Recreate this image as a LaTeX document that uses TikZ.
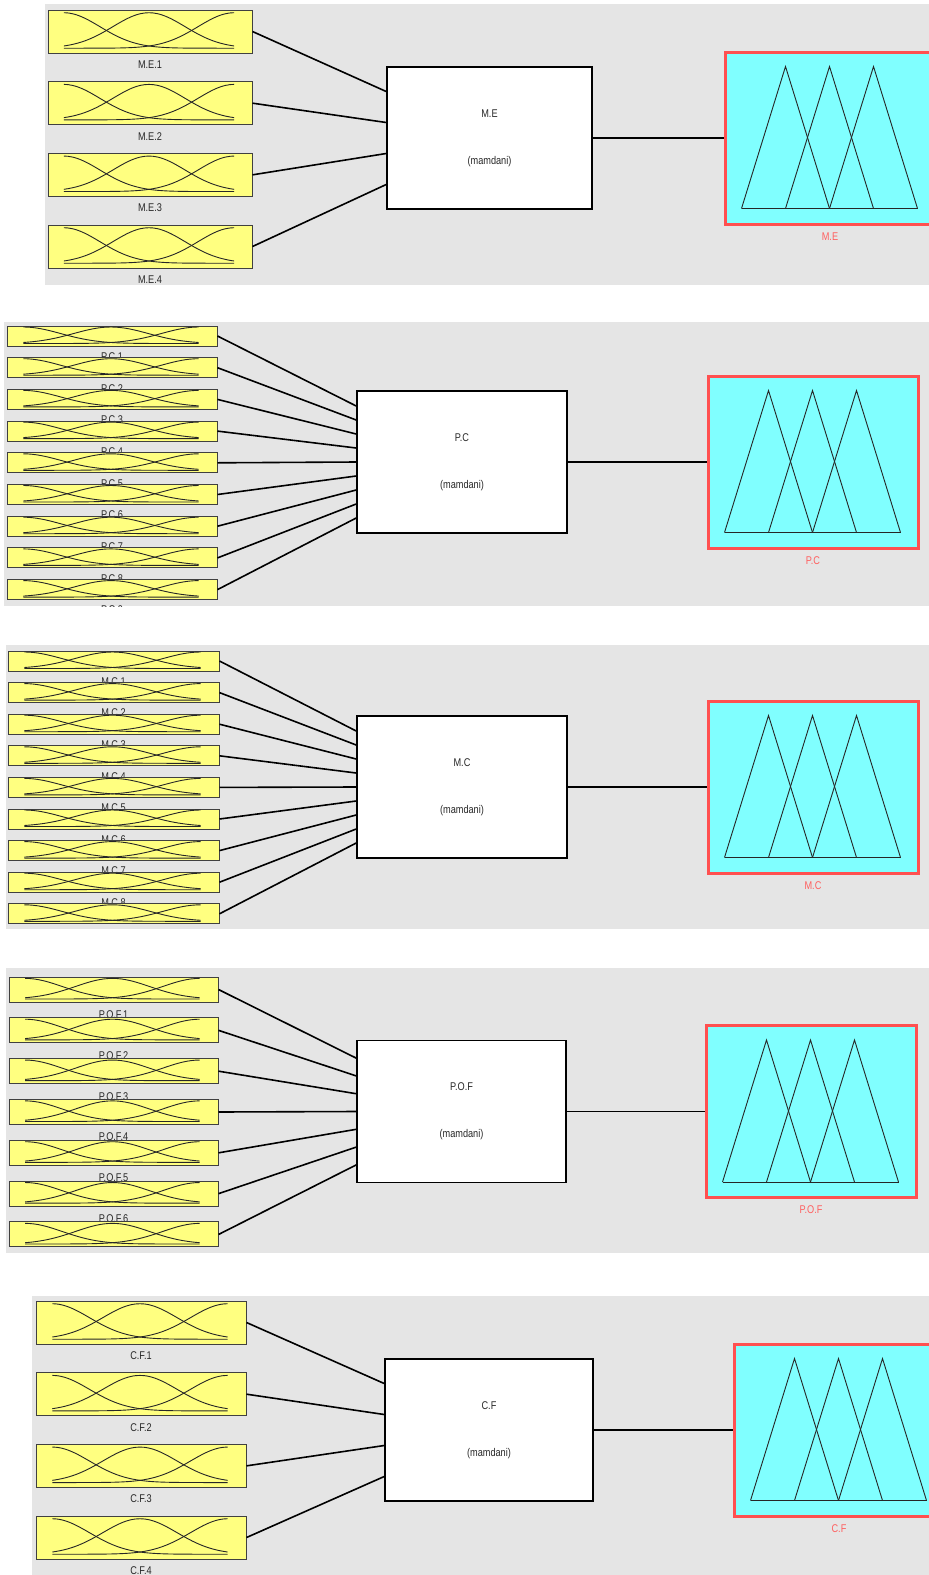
\documentclass[tikz,border=0pt]{standalone}
\usepackage{fontspec}
\newfontfamily\lblfont[FakeStretch=0.82]{Liberation Sans}
\usepackage{tikz}

\definecolor{panelgray}{RGB}{229,229,229}
\definecolor{mfyellow}{RGB}{255,255,128}
\definecolor{mfcyan}{RGB}{128,255,255}
\definecolor{outred}{RGB}{255,80,80}
\definecolor{lblgray}{RGB}{40,40,40}
\definecolor{lblred}{RGB}{255,95,95}

\newcommand{\pxu}{0.5pt}
\newcommand{\lblsize}{\lblfont\fontsize{5.6}{6.6}\selectfont}

\newcommand{\gaussmf}[3]{%
  \begin{scope}[shift={(#1.north west)}]
    \foreach \c in {0,0.5,1}
      \draw[mfline] plot[domain=0:1, samples=41, smooth] ({(0.08+0.835*\x)*#2}, {(0.9-0.825*exp(-1*(\x-\c)*(\x-\c)/0.09))*#3});
  \end{scope}}

\newcommand{\trimf}[1]{%
  \begin{scope}[shift={(#1.north west)}]
    \foreach \k in {0,1,2}
      \draw[mfline] ({18+44*\k},158) -- ({62+44*\k},16) -- ({106+44*\k},158);
    \draw[mfline] (18,158) -- (194,158);
  \end{scope}}

\tikzset{
  panel/.style={fill=panelgray},
  inbox/.style={draw=black!75, fill=mfyellow, line width=0.5pt, inner sep=0pt},
  fisbox/.style={draw=black, fill=white, line width=0.8pt, inner sep=0pt, minimum height={142*\pxu}, align=center, font=\lblsize, text=lblgray},
  outbox/.style={draw=outred, fill=mfcyan, line width=1.5pt, inner sep=0pt, minimum width={210*\pxu}, minimum height={172*\pxu}},
  mfline/.style={black!85, line width=0.45pt},
  conn/.style={black, line width=0.8pt},
  inlabel/.style={font=\lblsize, text=lblgray, inner sep=0pt},
  outlabel/.style={font=\lblsize, text=lblred, inner sep=0pt}
}

\begin{document}
\begin{tikzpicture}[x=0.5pt, y=-0.5pt]
    \useasboundingbox (0,0) rectangle (929,1575);
    \clip (0,0) rectangle (929,1575);

    \begin{scope}
    \clip (45,4) rectangle (929,285);
    \fill[panel] (45,4) rectangle (929,285);
    \foreach \i in {1,...,4} {
        \node[inbox, minimum width={204*\pxu}, minimum height={43*\pxu}] (me\i) at (150, {31.5+71.67*(\i-1)}) {};
        \gaussmf{me\i}{204}{43}
        \node[inlabel] (me\i lbl) at ([yshift={-11*\pxu}]me\i.south) {M.E.\i};
    }
    \node[fisbox, minimum width={205*\pxu}] (mefis) at (489.5,138) {M.E\\[17pt](mamdani)};
    \node[outbox] (meout) at (830,138) {};
    \trimf{meout}
    \node[outlabel] (meoutlbl) at ([yshift={-11*\pxu}]meout.south) {M.E};
    \draw[conn] (mefis.east) -- (meout.west);
    \foreach \i in {1,...,4} {
        \coordinate (mein\i) at ([yshift={-(\i-2.5)*31*\pxu}]mefis.west);
        \draw[conn] (me\i.east) -- (mein\i);
    }
    \end{scope}

    \begin{scope}
    \clip (4,322) rectangle (929,606);
    \fill[panel] (4,322) rectangle (929,606);
    \foreach \i in {1,...,9} {
        \node[inbox, minimum width={210*\pxu}, minimum height={20*\pxu}] (pc\i) at (112, {336+31.7*(\i-1)}) {};
        \gaussmf{pc\i}{210}{20}
        \node[inlabel] (pc\i lbl) at ([yshift={-10*\pxu}]pc\i.south) {P.C.\i};
    }
    \node[fisbox, minimum width={210*\pxu}] (pcfis) at (462,462) {P.C\\[17pt](mamdani)};
    \node[outbox] (pcout) at (813,462) {};
    \trimf{pcout}
    \node[outlabel] (pcoutlbl) at ([yshift={-11*\pxu}]pcout.south) {P.C};
    \draw[conn] (pcfis.east) -- (pcout.west);
    \foreach \i in {1,...,9} {
        \coordinate (pcin\i) at ([yshift={-(\i-5)*14*\pxu}]pcfis.west);
        \draw[conn] (pc\i.east) -- (pcin\i);
    }
    \end{scope}

    \begin{scope}
    \clip (6,645) rectangle (929,929);
    \fill[panel] (6,645) rectangle (929,929);
    \foreach \i in {1,...,9} {
        \node[inbox, minimum width={211*\pxu}, minimum height={20*\pxu}] (mc\i) at (113.5, {661+31.6*(\i-1)}) {};
        \gaussmf{mc\i}{211}{20}
        \node[inlabel] (mc\i lbl) at ([yshift={-10*\pxu}]mc\i.south) {M.C.\i};
    }
    \node[fisbox, minimum width={210*\pxu}] (mcfis) at (462,787) {M.C\\[17pt](mamdani)};
    \node[outbox] (mcout) at (813,787) {};
    \trimf{mcout}
    \node[outlabel] (mcoutlbl) at ([yshift={-11*\pxu}]mcout.south) {M.C};
    \draw[conn] (mcfis.east) -- (mcout.west);
    \foreach \i in {1,...,9} {
        \coordinate (mcin\i) at ([yshift={-(\i-5)*14*\pxu}]mcfis.west);
        \draw[conn] (mc\i.east) -- (mcin\i);
    }
    \end{scope}

    \begin{scope}
    \clip (6,968) rectangle (929,1253);
    \fill[panel] (6,968) rectangle (929,1253);
    \foreach \i in {1,...,7} {
        \node[inbox, minimum width={209*\pxu}, minimum height={25*\pxu}] (pof\i) at (113.5, {989.5+40.83*(\i-1)}) {};
        \gaussmf{pof\i}{209}{25}
        \node[inlabel] (pof\i lbl) at ([yshift={-12*\pxu}]pof\i.south) {P.O.F.\i};
    }
    \node[fisbox, minimum width={209*\pxu}] (poffis) at (461.5,1111.5) {P.O.F\\[17pt](mamdani)};
    \node[outbox] (pofout) at (811,1111.5) {};
    \trimf{pofout}
    \node[outlabel] (pofoutlbl) at ([yshift={-11*\pxu}]pofout.south) {P.O.F};
    \draw[conn] (poffis.east) -- (pofout.west);
    \foreach \i in {1,...,7} {
        \coordinate (pofin\i) at ([yshift={-(\i-4)*17.8*\pxu}]poffis.west);
        \draw[conn] (pof\i.east) -- (pofin\i);
    }
    \end{scope}

    \begin{scope}
    \clip (32,1296) rectangle (929,1575);
    \fill[panel] (32,1296) rectangle (929,1575);
    \foreach \i in {1,...,4} {
        \node[inbox, minimum width={210*\pxu}, minimum height={43*\pxu}] (cf\i) at (141, {1322.5+71.67*(\i-1)}) {};
        \gaussmf{cf\i}{210}{43}
        \node[inlabel] (cf\i lbl) at ([yshift={-11*\pxu}]cf\i.south) {C.F.\i};
    }
    \node[fisbox, minimum width={208*\pxu}] (cffis) at (489,1430) {C.F\\[17pt](mamdani)};
    \node[outbox] (cfout) at (839,1430) {};
    \trimf{cfout}
    \node[outlabel] (cfoutlbl) at ([yshift={-11*\pxu}]cfout.south) {C.F};
    \draw[conn] (cffis.east) -- (cfout.west);
    \foreach \i in {1,...,4} {
        \coordinate (cfin\i) at ([yshift={-(\i-2.5)*31*\pxu}]cffis.west);
        \draw[conn] (cf\i.east) -- (cfin\i);
    }
    \end{scope}
\end{tikzpicture}
\end{document}
